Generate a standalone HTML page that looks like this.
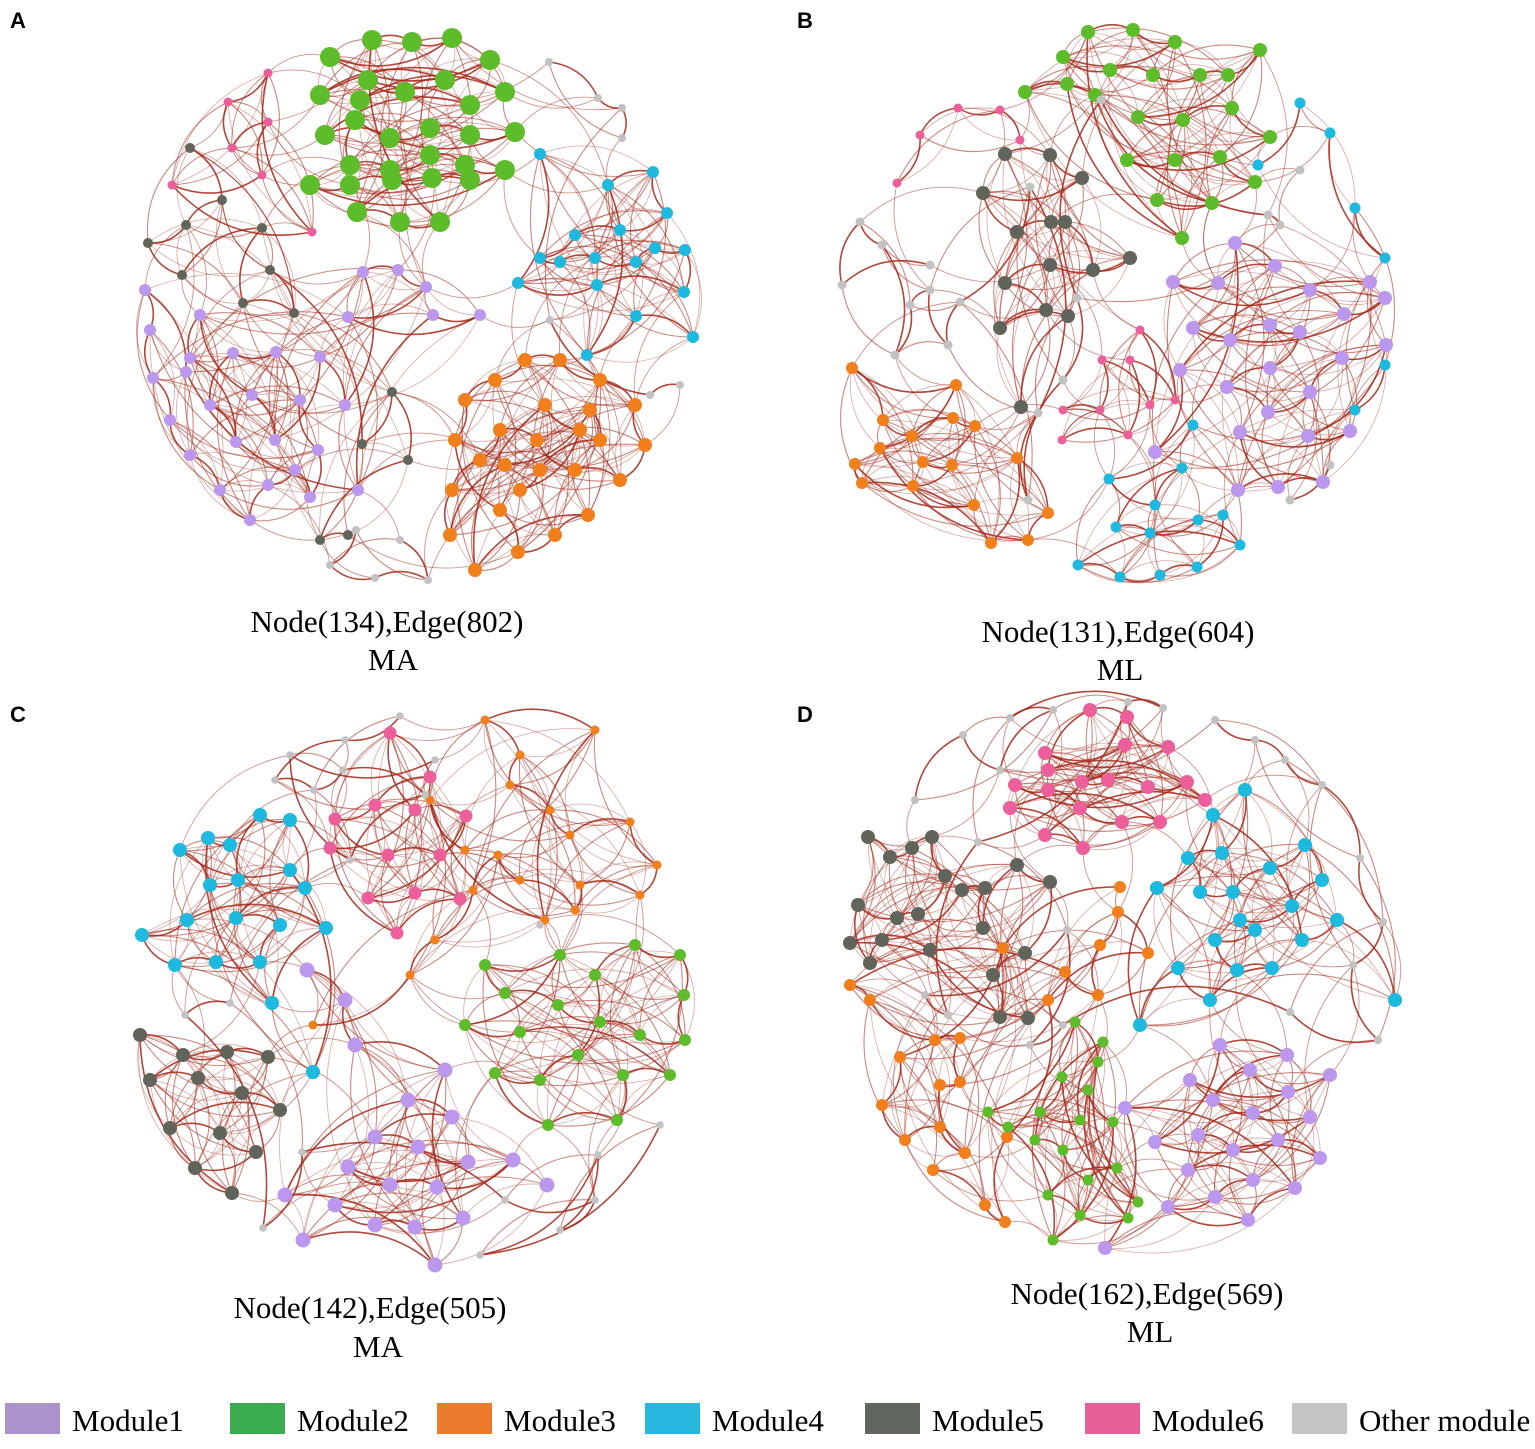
<!DOCTYPE html>
<html><head><meta charset="utf-8">
<style>
body{margin:0;background:#fff;}
svg text{font-family:"Liberation Serif",serif;}
svg text.lbl{font-family:"Liberation Sans",sans-serif;font-weight:bold;}
</style></head>
<body>
<svg id="fig" width="1535" height="1444" viewBox="0 0 1535 1444" xmlns="http://www.w3.org/2000/svg">
<rect width="1535" height="1444" fill="#fff"/>
<g id="edges"></g>
<g id="nodes"></g>
<text class="lbl" x="10" y="28" font-size="22">A</text>
<text class="lbl" x="797" y="28" font-size="22">B</text>
<text class="lbl" x="10" y="722" font-size="22">C</text>
<text class="lbl" x="797" y="722" font-size="22">D</text>
<text x="387" y="632" font-size="31" text-anchor="middle">Node(134),Edge(802)</text>
<text x="393" y="670" font-size="31" text-anchor="middle">MA</text>
<text x="1118" y="642" font-size="31" text-anchor="middle">Node(131),Edge(604)</text>
<text x="1120" y="680" font-size="31" text-anchor="middle">ML</text>
<text x="370" y="1318" font-size="31" text-anchor="middle">Node(142),Edge(505)</text>
<text x="378" y="1357" font-size="31" text-anchor="middle">MA</text>
<text x="1147" y="1304" font-size="31" text-anchor="middle">Node(162),Edge(569)</text>
<text x="1150" y="1342" font-size="31" text-anchor="middle">ML</text>
<g id="legend"></g>
</svg>
<script>
const colors={p:"#bb98ee",g:"#5cbc2a",o:"#f07f1c",c:"#1db9df",d:"#60645a",k:"#ec5f9b",x:"#c2c2c2"};
const legendLabels=["Module1","Module2","Module3","Module4","Module5","Module6","Other module"];
const legendColors=["#ab94cc","#3aab4e","#eb7a2a","#26b6de","#626660","#e65f98","#c4c4c4"];
const legendX=[5,230,437,645,865,1085,1292];
const panelA={
g:[[372,40],[412,42],[452,38],[330,57],[490,60],[368,80],[405,92],[445,80],[320,95],[505,92],[360,100],[470,105],[325,135],[390,138],[430,128],[470,135],[515,132],[355,120],[350,165],[390,170],[430,155],[465,165],[505,170],[310,185],[350,185],[392,180],[432,178],[470,180],[357,212],[400,222],[440,222]],
c:[[608,185],[653,172],[667,213],[620,230],[575,235],[540,258],[560,262],[595,258],[636,262],[655,248],[685,250],[684,292],[597,285],[518,283],[540,154],[693,337],[636,316],[587,355]],
o:[[452,490],[480,460],[500,430],[537,440],[575,470],[620,480],[645,445],[635,405],[600,380],[560,360],[525,360],[495,380],[465,400],[455,440],[500,510],[518,552],[555,535],[588,515],[475,570],[545,405],[580,430],[520,490],[540,470],[600,440],[590,410],[505,465],[450,535]],
p:[[145,290],[150,330],[153,378],[170,420],[190,455],[220,490],[250,520],[268,485],[295,470],[310,497],[318,450],[300,400],[276,352],[233,353],[210,405],[236,442],[190,358],[200,315],[252,395],[275,440],[320,357],[345,405],[363,272],[398,270],[426,287],[348,317],[480,315],[433,315],[358,490],[186,372]],
d:[[190,148],[222,200],[186,225],[148,243],[182,275],[262,228],[243,303],[294,313],[270,270],[362,444],[392,392],[408,460],[320,540],[348,535]],
k:[[268,73],[228,102],[232,148],[268,122],[262,175],[172,185],[312,232]],
x:[[549,62],[598,98],[622,108],[622,138],[400,540],[428,580],[375,578],[330,565],[356,530],[680,385],[650,395],[550,320]]};
const panelB={
g:[[1088,32],[1133,30],[1175,42],[1063,57],[1110,70],[1153,75],[1200,75],[1228,75],[1260,50],[1138,117],[1183,120],[1232,108],[1270,137],[1127,160],[1175,160],[1220,157],[1255,182],[1157,200],[1212,203],[1095,95],[1025,92],[1067,84],[1182,238]],
d:[[1005,154],[1050,155],[1082,178],[983,193],[1017,232],[1051,222],[1065,222],[1093,270],[1130,258],[1050,265],[1005,283],[1046,310],[1000,328],[1068,316],[1021,407]],
p:[[1235,243],[1275,266],[1218,283],[1173,282],[1310,290],[1344,314],[1385,298],[1193,328],[1230,340],[1270,325],[1300,332],[1270,368],[1227,387],[1268,412],[1310,392],[1342,358],[1386,345],[1308,436],[1350,431],[1240,432],[1278,487],[1323,482],[1238,490],[1370,282],[1180,370],[1155,452]],
o:[[852,368],[883,420],[912,436],[953,418],[975,426],[923,462],[952,465],[913,486],[974,505],[855,464],[862,483],[991,543],[1017,458],[1048,513],[1028,540],[880,448],[956,385]],
c:[[1193,425],[1109,479],[1155,505],[1182,468],[1116,527],[1150,533],[1198,520],[1240,545],[1078,565],[1120,577],[1160,575],[1197,567],[1223,515],[1355,208],[1385,258],[1330,133],[1385,365],[1355,410],[1300,103],[1258,165]],
k:[[1063,410],[1100,410],[1102,360],[1150,405],[1140,330],[1175,400],[1130,360],[1128,435],[1062,440],[1020,140],[1000,110],[958,108],[920,135],[897,183]],
x:[[842,285],[860,222],[882,245],[895,355],[910,305],[930,290],[948,345],[960,302],[1030,187],[1038,413],[1028,500],[1063,380],[1077,298],[1101,100],[1268,215],[1280,225],[1330,465],[1290,500],[1300,170],[930,265]]};
const panelC={
c:[[180,850],[210,885],[238,880],[260,815],[290,820],[305,888],[236,918],[280,925],[260,962],[216,962],[175,965],[142,935],[187,920],[326,928],[272,1003],[208,838],[230,845],[313,1072],[290,870]],
k:[[390,733],[430,777],[375,805],[335,819],[388,855],[440,855],[466,816],[368,898],[415,893],[460,899],[397,933],[330,848],[415,810]],
o:[[485,720],[520,755],[510,785],[550,810],[570,835],[630,822],[657,865],[640,895],[580,885],[575,910],[520,880],[498,855],[473,890],[435,940],[410,975],[313,1025],[465,850],[430,800],[545,920],[595,730]],
g:[[505,993],[558,1005],[600,1022],[640,1035],[685,1040],[684,995],[680,955],[635,945],[595,975],[578,1055],[540,1080],[495,1073],[548,1125],[617,1120],[623,1075],[670,1075],[520,1032],[465,1025],[560,955],[485,965]],
p:[[408,1100],[452,1117],[375,1137],[418,1147],[468,1162],[348,1167],[390,1185],[437,1187],[513,1160],[335,1205],[375,1225],[415,1227],[463,1218],[445,1070],[355,1045],[345,1000],[307,970],[547,1185],[303,1240],[435,1265],[285,1195]],
d:[[140,1035],[183,1055],[227,1052],[268,1057],[150,1080],[198,1078],[242,1093],[280,1110],[170,1128],[220,1133],[256,1152],[195,1168],[232,1193]],
x:[[400,716],[345,740],[275,780],[314,790],[343,770],[425,795],[350,860],[290,755],[435,760],[230,1003],[185,1015],[263,1228],[302,1152],[505,1200],[595,1200],[560,1230],[598,1155],[480,1255],[660,1125],[540,925]]};
const panelD={
k:[[1090,710],[1127,717],[1168,747],[1045,753],[1125,745],[1082,782],[1108,780],[1148,787],[1187,782],[1015,785],[1048,790],[1080,808],[1122,822],[1160,822],[1010,808],[1083,848],[1045,835],[1205,800],[1048,770]],
d:[[868,837],[890,857],[912,848],[932,837],[945,876],[918,914],[897,918],[858,905],[870,963],[882,940],[962,890],[985,888],[983,928],[1017,865],[1050,882],[1025,953],[993,975],[1000,1017],[850,943],[930,950],[1028,1018]],
c:[[1245,790],[1222,853],[1188,858],[1200,892],[1233,892],[1270,868],[1305,845],[1322,880],[1292,906],[1240,920],[1255,930],[1215,940],[1237,970],[1272,968],[1210,1000],[1178,968],[1140,1025],[1157,888],[1213,815],[1302,940],[1337,920],[1395,1000]],
o:[[900,1057],[882,1105],[905,1140],[940,1127],[965,1153],[940,1085],[960,1082],[960,1038],[935,1040],[870,1000],[850,985],[1065,972],[1098,995],[1100,945],[1118,912],[1148,953],[1048,1000],[1007,1137],[1005,1222],[985,1205],[933,1170],[1120,887],[1003,948]],
g:[[1062,1077],[1040,1112],[1080,1120],[1103,1042],[1035,1140],[1063,1150],[1088,1180],[1117,1168],[1048,1195],[1080,1215],[1128,1218],[1088,1090],[1113,1122],[1053,1240],[1008,1127],[988,1112],[1075,1022],[1098,1062],[1138,1202]],
p:[[1220,1045],[1287,1055],[1213,1100],[1250,1070],[1288,1092],[1253,1113],[1198,1135],[1233,1150],[1278,1140],[1320,1158],[1188,1170],[1253,1180],[1215,1197],[1168,1207],[1248,1220],[1295,1188],[1125,1108],[1105,1248],[1330,1075],[1190,1080],[1310,1117],[1155,1142]],
x:[[1010,718],[1053,710],[1000,770],[963,735],[915,800],[1215,720],[1255,740],[1285,760],[1322,785],[1360,858],[1383,922],[1353,965],[1378,1040],[1290,1012],[1063,1025],[1030,1045],[1067,930],[925,995],[948,1015],[978,842],[1128,702],[1163,708]]};
const panels=[["a",panelA,{g:10,c:6,o:7,p:6,d:5,k:4.5,x:4}],["b",panelB,{g:7,d:7,p:7,o:6,c:5.5,k:4.5,x:4.5}],["c",panelC,{c:7,k:6.5,o:4.5,g:6,p:7.5,d:7,x:3.8}],["d",panelD,{k:7,d:7,c:7,o:6,g:5.5,p:7,x:4}]];
const NS="http://www.w3.org/2000/svg";
const eg=document.getElementById("edges"), ng=document.getElementById("nodes");
function curve(a,b,sgn,w,op){
  const dx=b[0]-a[0],dy=b[1]-a[1];
  if(Math.hypot(dx,dy)>230) return;
  const mx=(a[0]+b[0])/2-dy*0.28*sgn,my=(a[1]+b[1])/2+dx*0.28*sgn;
  const p=document.createElementNS(NS,"path");
  p.setAttribute("d",`M${a[0]},${a[1]}Q${mx},${my} ${b[0]},${b[1]}`);
  p.setAttribute("fill","none");p.setAttribute("stroke","#a4281a");
  p.setAttribute("stroke-width",w);p.setAttribute("stroke-opacity",op);
  
  
  eg.appendChild(p);
}
panels.forEach(([id,pd,rad])=>{
  const all=[];
  Object.keys(pd).forEach(m=>{
    const arr=pd[m],n=arr.length;
    arr.forEach((pt,i)=>{
      all.push([pt,m]);
      const steps=m==="x"?[1,3]:[1,3,7,2,5];
      steps.forEach((s,k)=>{
        if(n>s){curve(pt,arr[(i+s)%n],(i+k)%2?1:-1,k===0?1.6:(k<3?1.1:0.8),k===0?0.85:(k<3?0.55:0.4));}
      });
    });
  });
  all.forEach(([pt,m],i)=>{
    const cand=all.filter(([q,mm])=>mm!==m).map(([q])=>[q,Math.hypot(q[0]-pt[0],q[1]-pt[1])]).sort((u,v)=>u[1]-v[1]);
    const pick=cand[(i%5)+1];
    if(pick && i%2===0) curve(pt,pick[0],i%4?1:-1,0.9,0.5);
  });
  Object.keys(pd).forEach(m=>{
    pd[m].forEach(pt=>{
      const c=document.createElementNS(NS,"circle");
      c.setAttribute("cx",pt[0]);c.setAttribute("cy",pt[1]);c.setAttribute("r",rad[m]);
      c.setAttribute("fill",colors[m]);
      
      
      ng.appendChild(c);
    });
  });
});
const lg=document.getElementById("legend");
legendLabels.forEach((l,i)=>{
  const r=document.createElementNS(NS,"rect");
  r.setAttribute("x",legendX[i]);r.setAttribute("y",1403);r.setAttribute("width",55);r.setAttribute("height",31);
  r.setAttribute("fill",legendColors[i]);
  
  
  lg.appendChild(r);
  const t=document.createElementNS(NS,"text");
  t.setAttribute("x",legendX[i]+67);t.setAttribute("y",1431);t.setAttribute("font-size","31");
  t.textContent=l;
  
  
  lg.appendChild(t);
});
</script>
</body></html>
